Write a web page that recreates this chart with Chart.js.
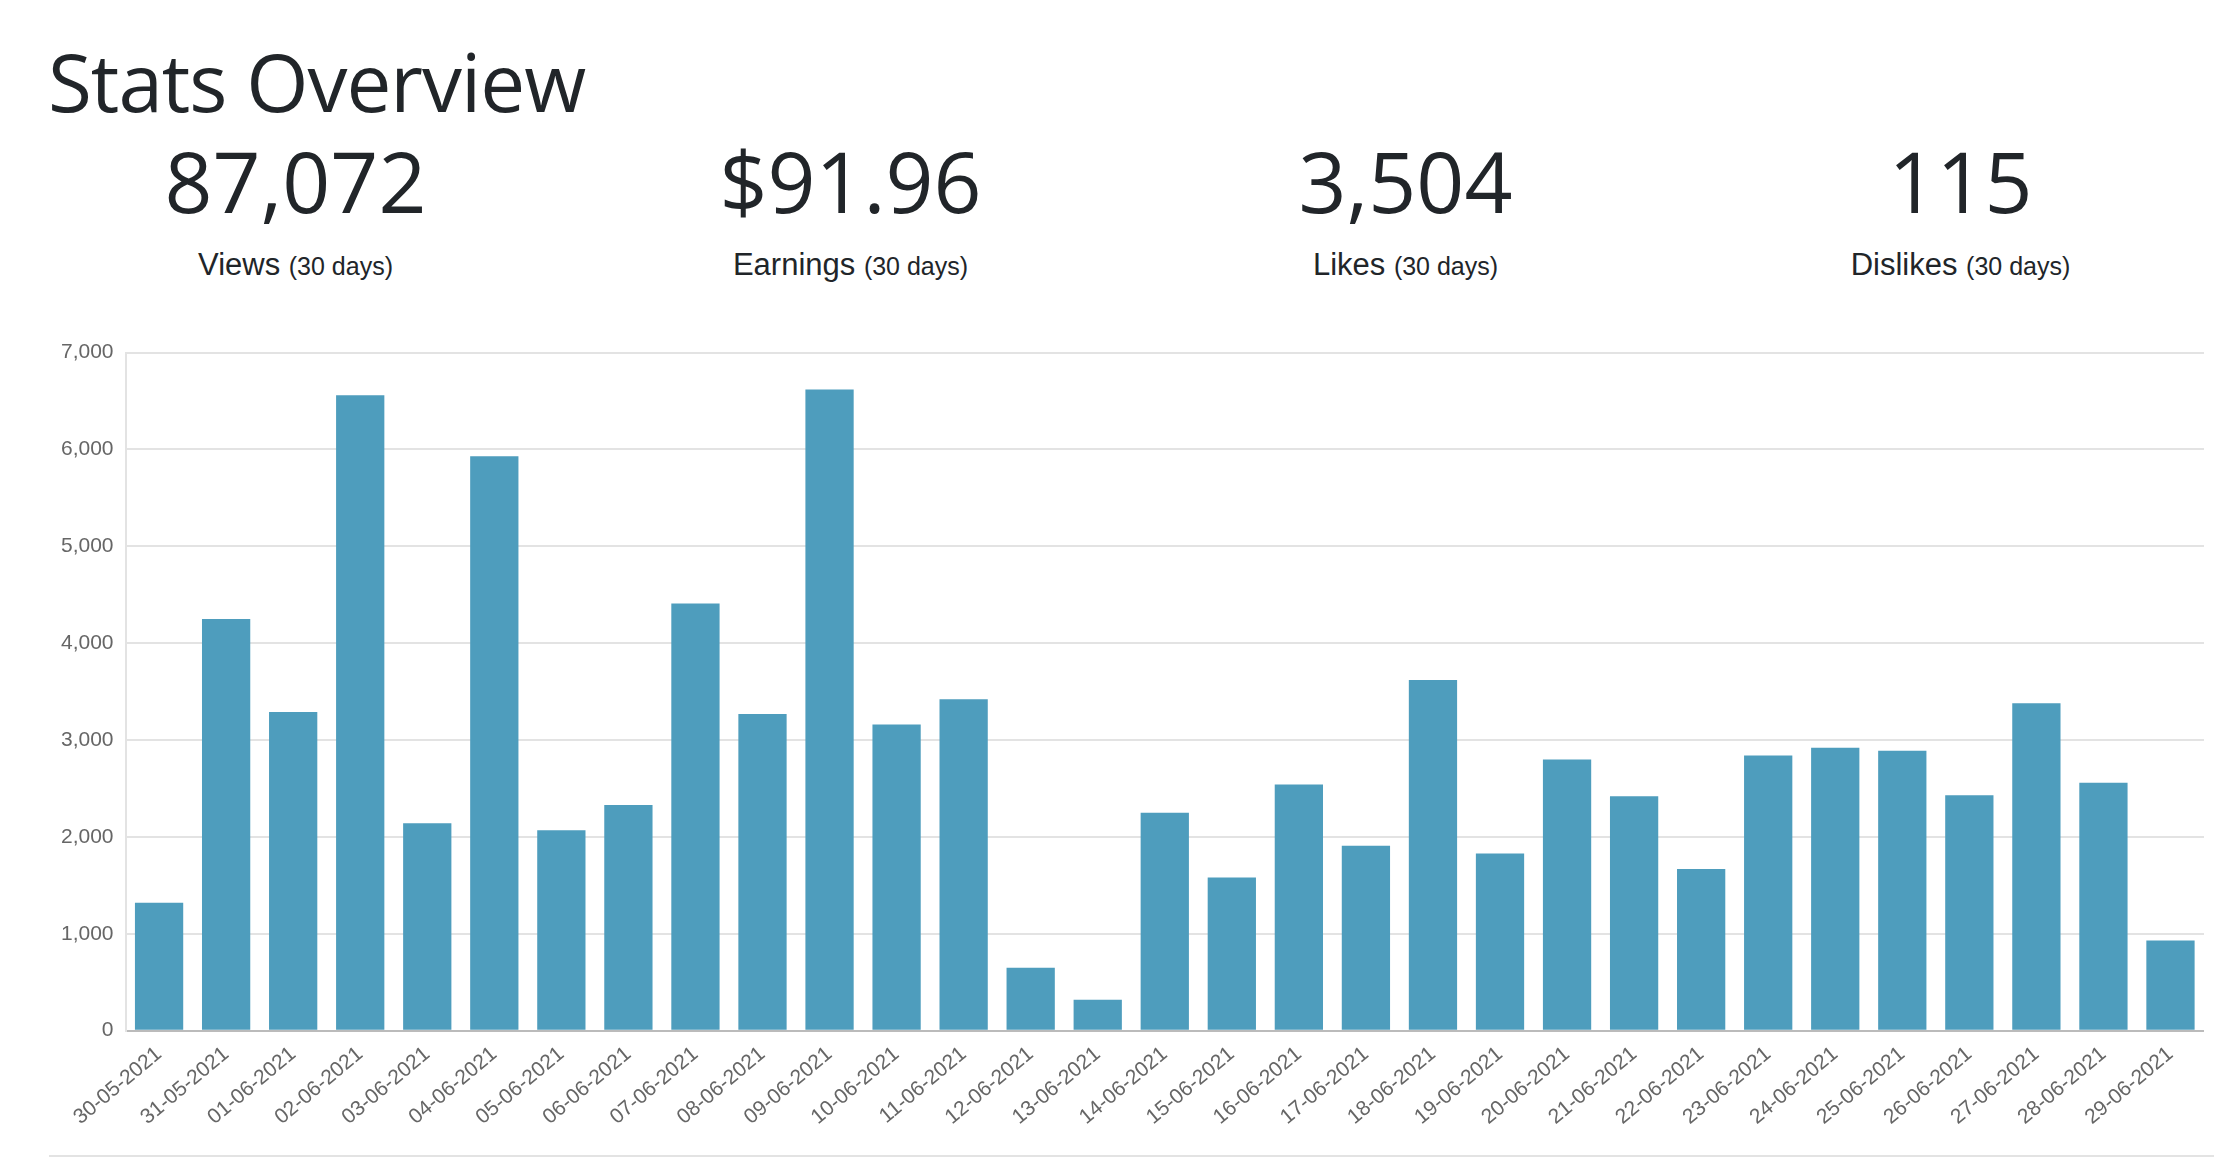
<!DOCTYPE html>
<html>
<head>
<meta charset="utf-8">
<script src="https://cdn.jsdelivr.net/npm/chart.js@4/dist/chart.umd.min.js"></script>
<style>
  body { margin: 0; background: #fff; color: #212529; font-family: "Liberation Sans", Arial, sans-serif; width: 2214px; height: 1172px; overflow: hidden; position: relative; }
  h1 { position: absolute; left: 48px; top: 26px; margin: 0; font-size: 80px; font-weight: 500; font-family: "Open Sans", "Liberation Sans", sans-serif; letter-spacing: -1px; }
  .stats { position: absolute; left: 18px; top: 135px; width: 2220px; display: flex; }
  .stat { width: 555px; text-align: center; }
  .num { font-size: 84px; font-weight: 500; font-family: "Open Sans", "Liberation Sans", sans-serif; line-height: 1.1; }
  .lbl { font-size: 31px; margin-top: 20px; }
  .lbl small { font-size: 25px; }
  #wrap { position: absolute; left: 49px; top: 328px; width: 2155px; height: 805px; }
  hr { position: absolute; left: 49px; top: 1155px; width: 2165px; margin: 0; border: 0; border-top: 2px solid #e3e3e3; }
</style>
</head>
<body>
<h1>Stats Overview</h1>
<div class="stats">
  <div class="stat"><div class="num">87,072</div><div class="lbl">Views <small>(30 days)</small></div></div>
  <div class="stat"><div class="num">$91.96</div><div class="lbl">Earnings <small>(30 days)</small></div></div>
  <div class="stat"><div class="num">3,504</div><div class="lbl">Likes <small>(30 days)</small></div></div>
  <div class="stat"><div class="num">115</div><div class="lbl">Dislikes <small>(30 days)</small></div></div>
</div>
<div id="wrap"><canvas id="chart"></canvas></div>
<hr>
<script>
// ============ DATA ============
const dates = [
  '30-05-2021', '31-05-2021', '01-06-2021', '02-06-2021', '03-06-2021', '04-06-2021', '05-06-2021',
  '06-06-2021', '07-06-2021', '08-06-2021', '09-06-2021', '10-06-2021', '11-06-2021', '12-06-2021',
  '13-06-2021', '14-06-2021', '15-06-2021', '16-06-2021', '17-06-2021', '18-06-2021', '19-06-2021',
  '20-06-2021', '21-06-2021', '22-06-2021', '23-06-2021', '24-06-2021', '25-06-2021', '26-06-2021',
  '27-06-2021', '28-06-2021', '29-06-2021'
];
const views = [
  1320, 4250, 3290, 6560, 2140, 5930, 2070, 2330, 4410, 3270, 6620, 3160, 3420, 650, 320,
  2250, 1580, 2540, 1910, 3620, 1830, 2800, 2420, 1670, 2840, 2920, 2890, 2430, 3380, 2560, 930
];

// ============ CHART ============
const tickFont = { family: '"Liberation Sans", Arial, sans-serif', size: 21 };
new Chart(document.getElementById('chart'), {
  type: 'bar',
  data: {
    labels: dates,
    datasets: [{ label: 'Views', data: views, backgroundColor: '#4e9dbd' }]
  },
  options: {
    responsive: true,
    maintainAspectRatio: false,
    animation: false,
    plugins: { legend: { display: false }, tooltip: { enabled: false } },
    scales: {
      x: {
        grid: { display: false },
        border: { color: '#bbb', width: 2 },
        ticks: { color: '#666', font: tickFont, maxRotation: 40, minRotation: 40, autoSkip: false }
      },
      y: {
        min: 0, max: 7000,
        ticks: { stepSize: 1000, color: '#666', font: tickFont, padding: 12 },
        grid: { color: '#e3e3e3', lineWidth: 2, tickLength: 0 },
        border: { color: '#e3e3e3', width: 2 }
      }
    }
  }
});
</script>
</body>
</html>
